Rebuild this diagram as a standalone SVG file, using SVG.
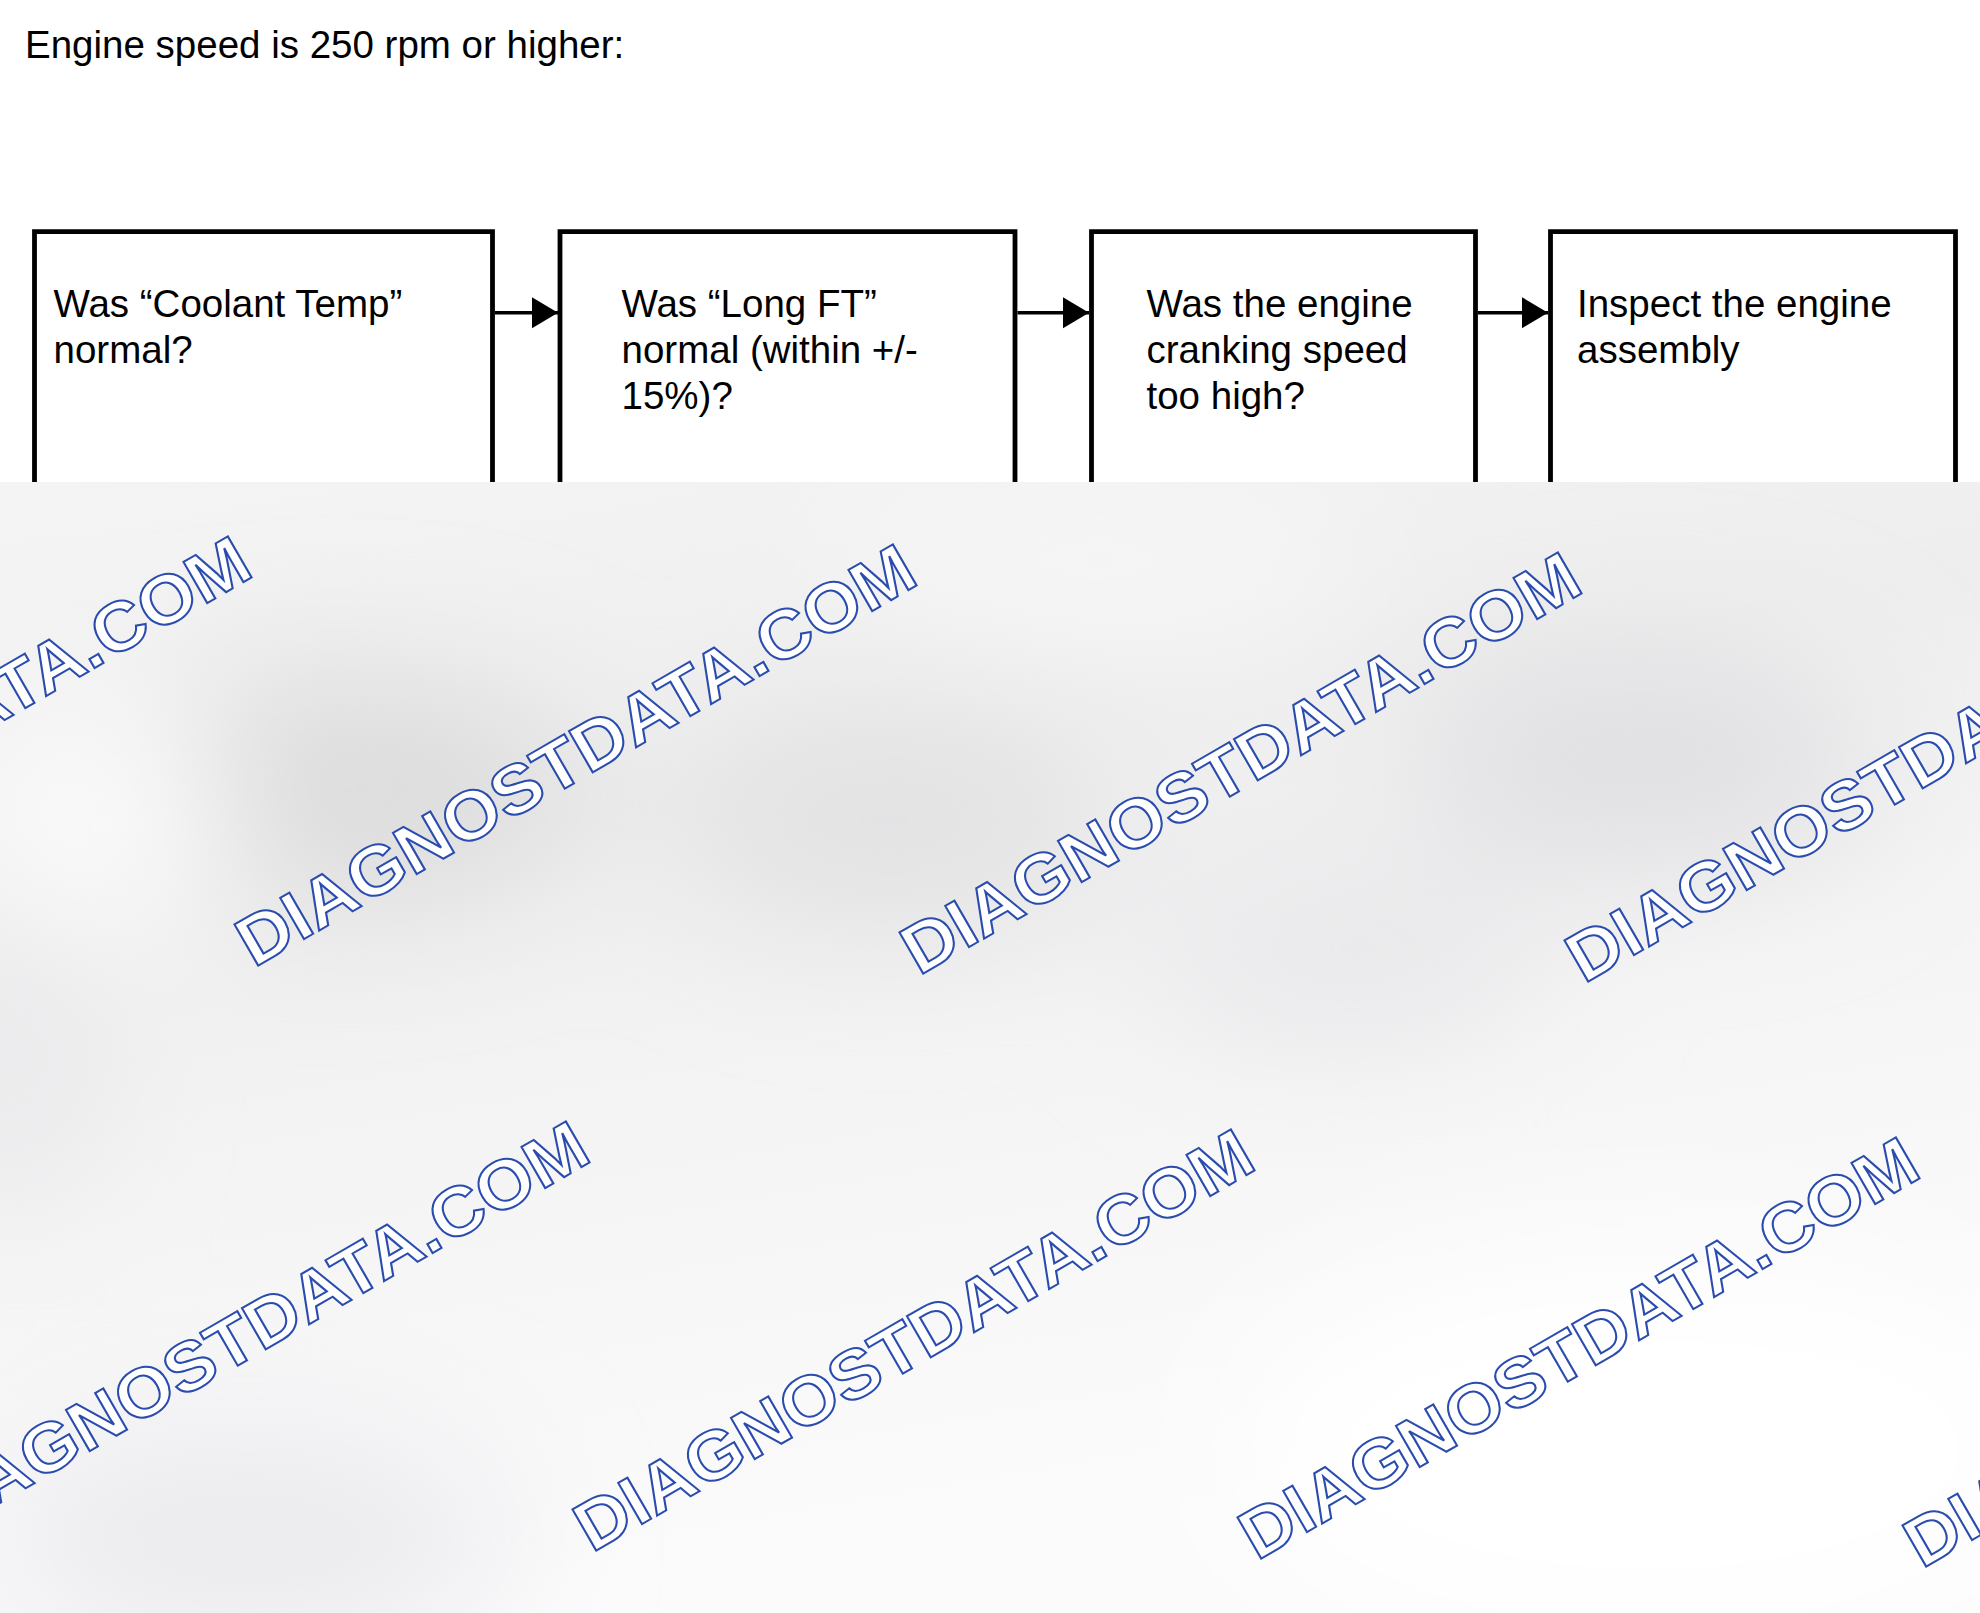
<svg xmlns="http://www.w3.org/2000/svg" width="1980" height="1613" viewBox="0 0 1980 1613">
<style>
.t{font-family:"Liberation Sans",Arial,sans-serif;font-size:38.5px;fill:#000}
.box{fill:none;stroke:#000;stroke-width:4.8}
.conn{stroke:#000;stroke-width:3.4;fill:none}
.wm{font-family:"Liberation Sans",Arial,sans-serif;font-weight:bold;font-size:69px;fill:#fff;stroke:#2a4cae;stroke-width:2}
</style>
<defs>
<marker id="ah" markerUnits="userSpaceOnUse" markerWidth="27" markerHeight="32" refX="26" refY="15.5" orient="auto">
<path d="M0,0 L26,15.5 L0,31 Z" fill="#000"/>
</marker>
<filter id="blur" x="-50%" y="-50%" width="200%" height="200%"><feGaussianBlur stdDeviation="70"/></filter>
<clipPath id="lower"><rect x="0" y="482" width="1980" height="1131"/></clipPath>
<linearGradient id="bg" x1="0" y1="0" x2="0.3" y2="1">
<stop offset="0" stop-color="#f4f4f4"/>
<stop offset="0.35" stop-color="#eeeeef"/>
<stop offset="0.7" stop-color="#f6f6f7"/>
<stop offset="1" stop-color="#fbfbfc"/>
</linearGradient>
</defs>
<rect x="0" y="0" width="1980" height="1613" fill="#fff"/>
<g id="title"><text class="t" x="25" y="58">Engine speed is 250 rpm or higher:</text></g>
<g id="node1">
<path class="box" d="M34.5,484 V231.7 H492.5 V484"/>
<text class="t" x="53.5" y="317">Was “Coolant Temp”</text>
<text class="t" x="53.5" y="363">normal?</text>
</g>
<g id="node2">
<path class="box" d="M560,484 V231.7 H1015 V484"/>
<text class="t" x="621.5" y="317">Was “Long FT”</text>
<text class="t" x="621.5" y="363">normal (within +/-</text>
<text class="t" x="621.5" y="409">15%)?</text>
</g>
<g id="node3">
<path class="box" d="M1091.5,484 V231.7 H1475.5 V484"/>
<text class="t" x="1146.5" y="317">Was the engine</text>
<text class="t" x="1146.5" y="363">cranking speed</text>
<text class="t" x="1146.5" y="409">too high?</text>
</g>
<g id="node4">
<path class="box" d="M1550.5,484 V231.7 H1955.5 V484"/>
<text class="t" x="1577" y="317">Inspect the engine</text>
<text class="t" x="1577" y="363">assembly</text>
</g>
<g id="connectors">
<line class="conn" x1="495" y1="312.7" x2="558" y2="312.7" marker-end="url(#ah)"/>
<line class="conn" x1="1017.5" y1="312.7" x2="1089" y2="312.7" marker-end="url(#ah)"/>
<line class="conn" x1="1478" y1="312.7" x2="1548" y2="312.7" marker-end="url(#ah)"/>
</g>
<g id="overlay" clip-path="url(#lower)">
<rect x="0" y="482" width="1980" height="1131" fill="url(#bg)"/>
<g filter="url(#blur)">
<ellipse cx="340" cy="790" rx="250" ry="110" fill="#dcdcdd"/>
<ellipse cx="890" cy="820" rx="220" ry="110" fill="#e2e2e3"/>
<ellipse cx="1640" cy="760" rx="230" ry="110" fill="#e0e0e2"/>
<ellipse cx="1350" cy="950" rx="200" ry="90" fill="#e8e8ea"/>
<ellipse cx="10" cy="1050" rx="70" ry="160" fill="#e8e8ea"/>
<ellipse cx="90" cy="820" rx="140" ry="120" fill="#fafafa"/>
<ellipse cx="1650" cy="1450" rx="420" ry="200" fill="#ffffff"/>
<ellipse cx="250" cy="1540" rx="260" ry="110" fill="#ebebee"/>
<ellipse cx="1100" cy="560" rx="260" ry="70" fill="#f7f7f7"/>
</g>
<g id="watermarks">
<text class="wm" x="-411" y="960" textLength="770" lengthAdjust="spacingAndGlyphs" transform="rotate(-30 -411 960)">DIAGNOSTDATA.COM</text>
<text class="wm" x="254" y="968" textLength="770" lengthAdjust="spacingAndGlyphs" transform="rotate(-30 254 968)">DIAGNOSTDATA.COM</text>
<text class="wm" x="919" y="976" textLength="770" lengthAdjust="spacingAndGlyphs" transform="rotate(-30 919 976)">DIAGNOSTDATA.COM</text>
<text class="wm" x="1584" y="984" textLength="770" lengthAdjust="spacingAndGlyphs" transform="rotate(-30 1584 984)">DIAGNOSTDATA.COM</text>
<text class="wm" x="-73" y="1545" textLength="770" lengthAdjust="spacingAndGlyphs" transform="rotate(-30 -73 1545)">DIAGNOSTDATA.COM</text>
<text class="wm" x="592" y="1553" textLength="770" lengthAdjust="spacingAndGlyphs" transform="rotate(-30 592 1553)">DIAGNOSTDATA.COM</text>
<text class="wm" x="1257" y="1561" textLength="770" lengthAdjust="spacingAndGlyphs" transform="rotate(-30 1257 1561)">DIAGNOSTDATA.COM</text>
<text class="wm" x="1922" y="1569" textLength="770" lengthAdjust="spacingAndGlyphs" transform="rotate(-30 1922 1569)">DIAGNOSTDATA.COM</text>
</g>
</g>
</svg>
